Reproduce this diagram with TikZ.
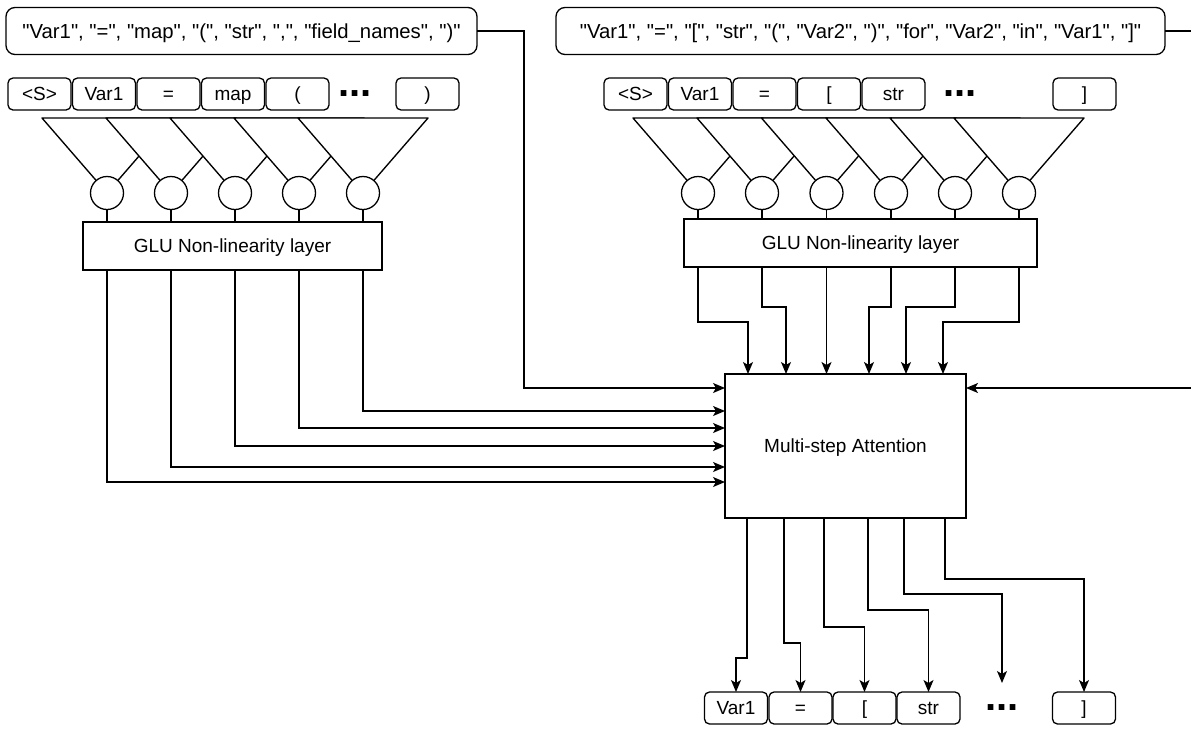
\documentclass[tikz,border=0pt]{standalone}
\usepackage{fontspec}
\setmainfont{Liberation Sans}[Ligatures=TeXOff]
\usetikzlibrary{arrows.meta}
\begin{document}
\begin{tikzpicture}[x=1pt,y=-1pt,
  txt/.style={font=\fontsize{19}{22}\selectfont, text height=15pt, text depth=1.4pt},
  line/.style={line width=1.35pt, black},
  arr/.style={line, -{Stealth[length=12pt,width=10pt,inset=3pt]}},
  tok/.style={draw, line width=1.3pt, rounded corners=5pt, minimum width=63pt,
    minimum height=32pt, inner sep=0pt, outer sep=0pt, txt},
  seq/.style={draw, line width=1.3pt, rounded corners=9pt, minimum height=47pt,
    inner sep=0pt, outer sep=0pt, font=\fontsize{20.3}{24}\selectfont,
    text height=16pt, text depth=1.5pt},
  blk/.style={draw, line width=1.3pt, inner sep=0pt, outer sep=0pt, txt},
  gate/.style={circle, draw, fill=white, line width=1.3pt, minimum size=33pt,
    inner sep=0pt, outer sep=0pt},
  ellip/.style={font=\fontsize{40}{44}\selectfont\bfseries, inner sep=0pt, anchor=base},
  funnel/.style={line, fill=white, line join=round},
]
\useasboundingbox (0,0) rectangle (1191,729);
\clip (0,0) rectangle (1191,729);

% token sequences
\node[seq, minimum width=471pt] (qL) at (241.5,31)
  {"Var1", "=", "map", "(", "str", ",", "field\_names", ")"};
\node[seq, minimum width=609pt] (qR) at (860.5,31)
  {"Var1", "=", "[", "str", "(", "Var2", ")", "for", "Var2", "in", "Var1", "]"};

% encoder input tokens
\node[tok] (aL1) at (39.5,94) {<S>};
\node[tok] (aL2) at (104,94) {Var1};
\node[tok] (aL3) at (168.5,94) {=};
\node[tok] (aL4) at (233,94) {map};
\node[tok] (aL5) at (297.5,94) {(};
\node[ellip] (eL) at (355,96) {...};
\node[tok] (aL6) at (427.5,94) {)};

% decoder input tokens
\node[tok] (aR1) at (635.5,94) {<S>};
\node[tok] (aR2) at (700,94) {Var1};
\node[tok] (aR3) at (764.5,94) {=};
\node[tok] (aR4) at (829,94) {[};
\node[tok] (aR5) at (893.5,94) {str};
\node[ellip] (eR) at (960,96) {...};
\node[tok] (aR6) at (1084.5,94) {]};

% GLU layers and attention
\node[blk, minimum width=299pt, minimum height=48pt] (gluL) at (232.5,246) {GLU Non-linearity layer};
\node[blk, minimum width=353pt, minimum height=48pt] (gluR) at (860.5,243) {GLU Non-linearity layer};
\node[blk, minimum width=241pt, minimum height=144pt] (att) at (845.5,446) {Multi-step Attention};

% convolution windows (left)
\foreach \i/\c in {1/107,2/171,3/235,4/299,5/363} {
  \draw[funnel] ({\c-65},118) -- (\c,193) -- ({\c+65},118) -- cycle;
}
\foreach \i/\c in {1/107,2/171,3/235,4/299,5/363} {
  \node[gate] (cL\i) at (\c,193) {};
  \draw[line] (cL\i.south) -- (cL\i.south |- gluL.north);
}

% convolution windows (right)
\foreach \i/\c in {1/698,2/762,3/826.5,4/891,5/955,6/1019} {
  \draw[funnel] ({\c-65},118) -- (\c,193) -- ({\c+65},118) -- cycle;
}
\foreach \i/\c in {1/698,2/762,3/826.5,4/891,5/955,6/1019} {
  \node[gate] (cR\i) at (\c,193) {};
  \draw[line] (cR\i.south) -- (cR\i.south |- gluR.north);
}

% encoder outputs into attention
\foreach \i/\yy in {1/482,2/467,3/446,4/428,5/411} {
  \draw[arr] (cL\i |- gluL.south) |- (att.west |- 0,\yy);
}
\coordinate (kL) at (524,388);
\draw[arr] (qL.east) -| (kL) -- (att.west |- kL);

\coordinate (kR) at (1197,388);
\draw[arr] (qR.east) -| (kR) -- (att.east |- kR);

% decoder states into attention
\foreach \i/\yy/\xx in {1/322/748,2/307/786,3/300/826.5,4/307/869,5/307/906,6/322/943} {
  \draw[arr] (cR\i |- gluR.south) |- (\xx,\yy) -- (att.north -| \xx,0);
}

% output tokens
\node[tok] (oB1) at (736,708) {Var1};
\node[tok] (oB2) at (800.5,708) {=};
\node[tok] (oB3) at (864.5,708) {[};
\node[tok] (oB4) at (928.5,708) {str};
\node[ellip] (eB) at (1002,710) {...};
\node[tok] (oB6) at (1084,708) {]};
\coordinate (eBtop) at (1002,683);

\foreach \xx/\yy/\t in {747/658/oB1,784/643/oB2,824/627/oB3,868/610/oB4,945/579/oB6} {
  \draw[arr] (att.south -| \xx,0) |- (\t.north |- 0,\yy) -- (\t.north);
}
\draw[arr] (att.south -| 904,0) |- (eBtop |- 0,594) -- (eBtop);

\end{tikzpicture}
\end{document}
